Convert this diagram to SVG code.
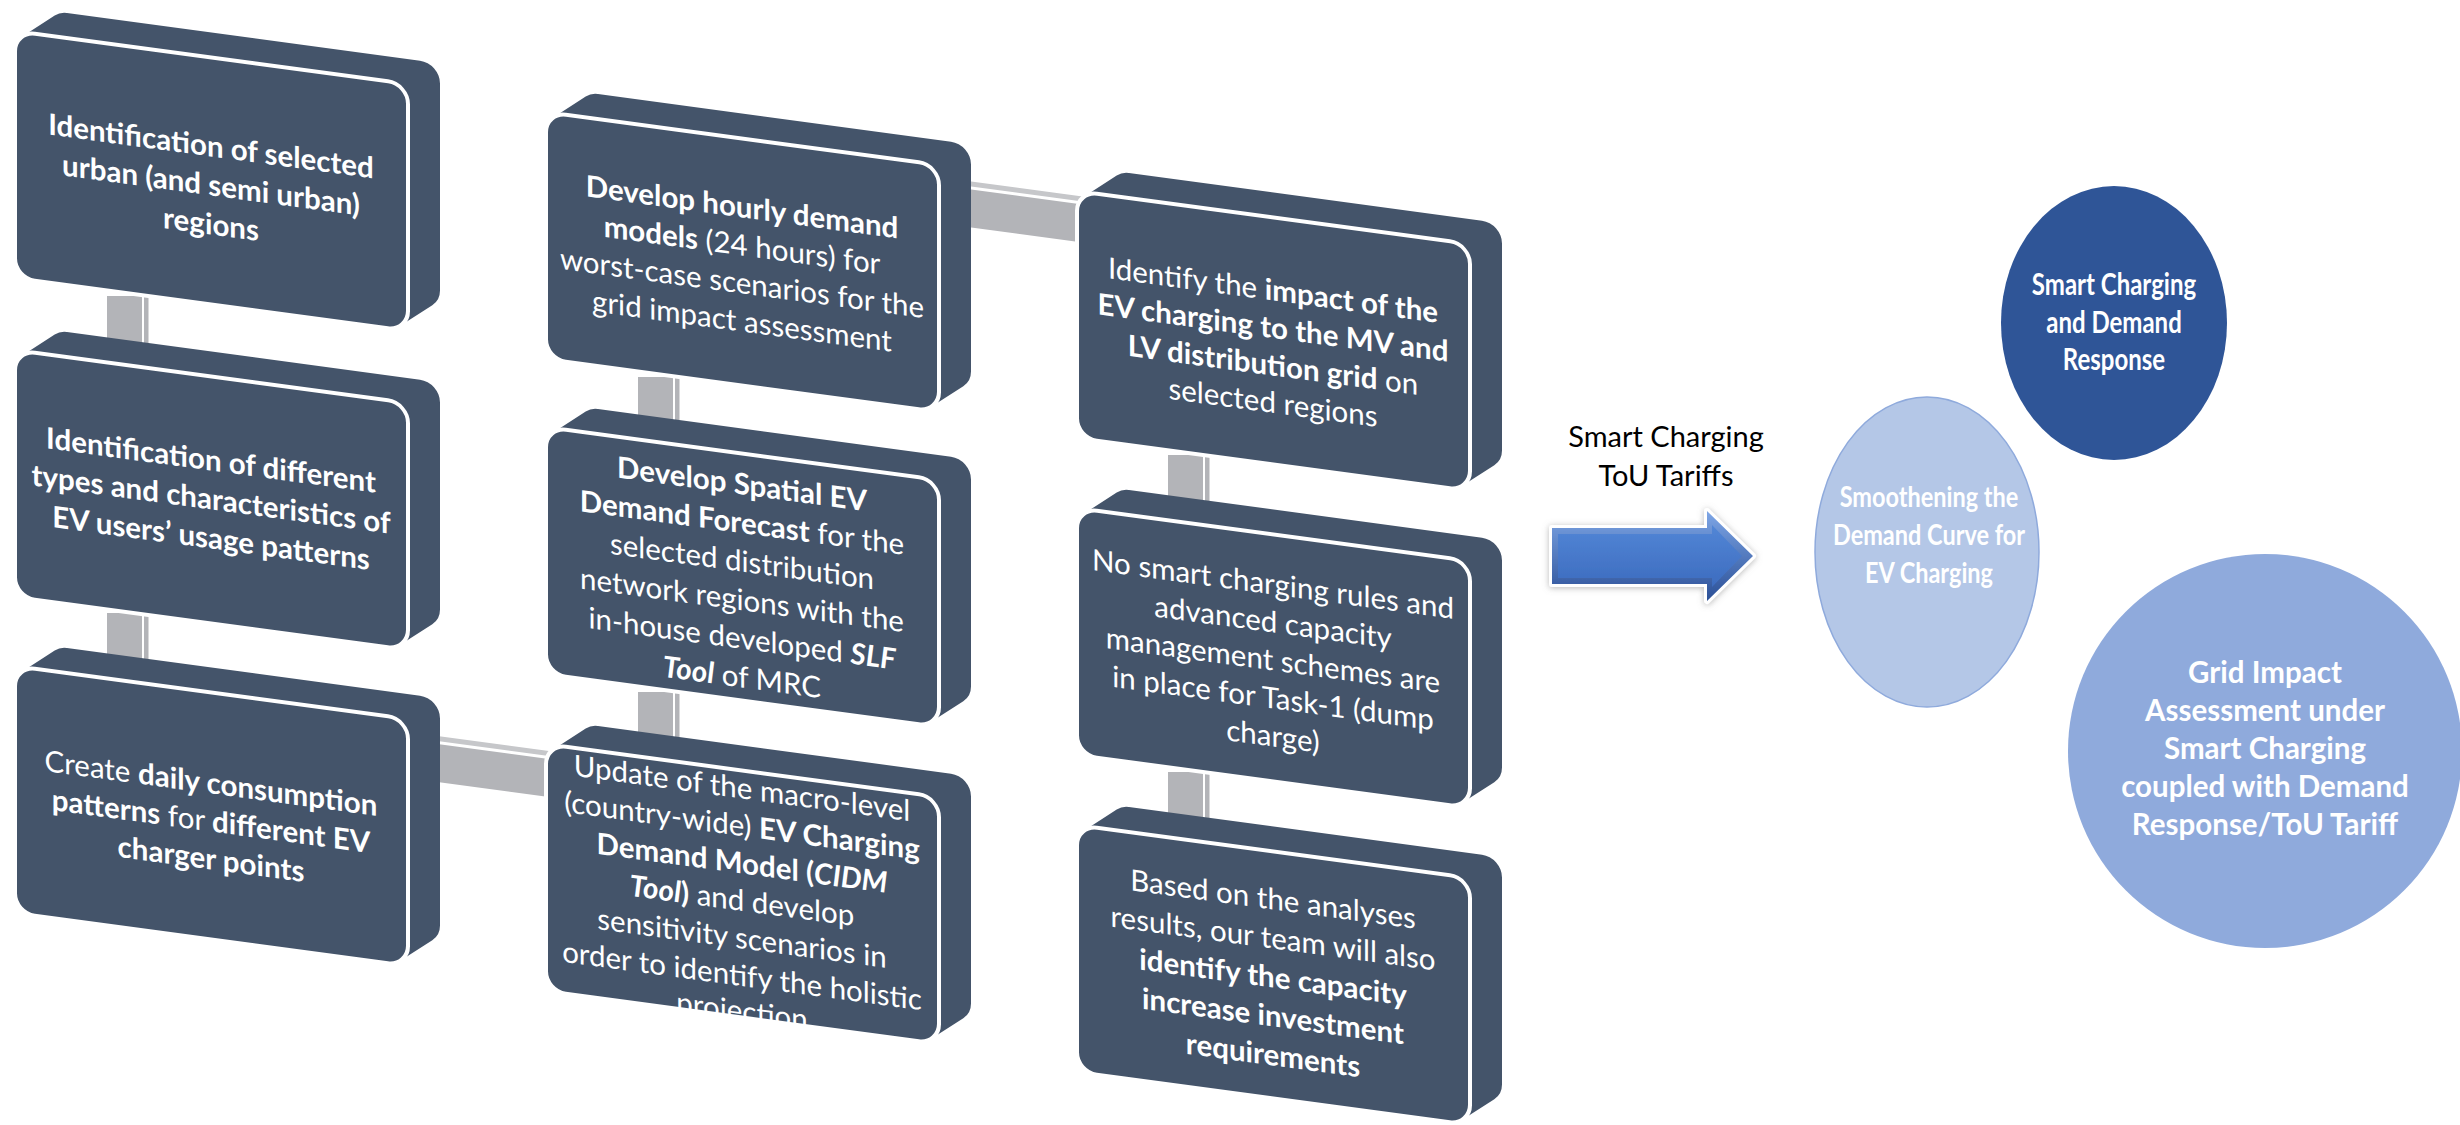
<svg xmlns="http://www.w3.org/2000/svg" width="2460" height="1125" viewBox="0 0 2460 1125">
<defs>
<style>
.slab{fill:#44546a}
.face{fill:#44546a;stroke:#ffffff;stroke-width:4}
.t{font-family:Lato,"Liberation Sans",sans-serif;font-size:29.5px;fill:#ffffff;text-anchor:middle}
.b{font-weight:700}
.bi{font-weight:700;font-style:italic}
.bar{fill:#b3b4b8}
.bar2{fill:#c6c7ca}
.ct{font-family:Lato,"Liberation Sans",sans-serif;font-weight:700;fill:#ffffff;text-anchor:middle}
.lbl{font-family:Lato,"Liberation Sans",sans-serif;font-size:29px;fill:#000000;text-anchor:middle}
</style>
<g id="box">
<path class="slab" d="M7.7,4.2 L39.7,-20.8 A20,20 0 0 1 52,-25 L405,-25 A20,20 0 0 1 425,-5 L425,202 A20,20 0 0 1 417.3,217.8 L385.3,242.8 A20,20 0 0 1 373,247 L20,247 A20,20 0 0 1 0,227 L0,20 A20,20 0 0 1 7.7,4.2 Z"/>
<rect class="face" width="393" height="247" rx="20"/>
</g>
<g id="vbar">
<rect class="bar" width="35" height="50"/>
<rect class="bar" x="37" width="4.5" height="50"/>
</g>
<g id="hbar">
<rect class="bar2" y="-8" width="130" height="5"/>
<rect class="bar" width="130" height="38"/>
</g>
<linearGradient id="arrOuter" x1="0" y1="0" x2="0" y2="1">
<stop offset="0" stop-color="#7ea6e6"/>
<stop offset="1" stop-color="#2a4f96"/>
</linearGradient>
<linearGradient id="arrInner" x1="0" y1="0" x2="0" y2="1">
<stop offset="0" stop-color="#5286d6"/>
<stop offset="1" stop-color="#3d6cbf"/>
</linearGradient>
<filter id="glow" x="-20%" y="-40%" width="140%" height="180%">
<feDropShadow dx="0" dy="1" stdDeviation="3" flood-color="#7f7f7f" flood-opacity="0.55"/>
</filter>
</defs>
<rect width="2460" height="1125" fill="#ffffff"/>

<g id="connectors">
<use href="#vbar" x="107" y="296"/>
<use href="#vbar" x="107" y="613"/>
<use href="#vbar" x="638" y="377"/>
<use href="#vbar" x="638" y="692"/>
<use href="#vbar" x="1168" y="455"/>
<use href="#vbar" x="1168" y="772"/>
<use href="#hbar" transform="translate(430,743) skewY(7.69)"/>
<use href="#hbar" transform="translate(960,188) skewY(7.69)"/>
</g>

<g id="n-a1" transform="translate(15,31) skewY(7.69)">
<use href="#box"/>
<text class="t b" x="196" y="99">Identification of selected</text>
<text class="t b" x="196" y="138">urban (and semi urban)</text>
<text class="t b" x="196" y="177">regions</text>
</g>

<g id="n-a2" transform="translate(15,350) skewY(7.69)">
<use href="#box"/>
<text class="t b" x="196" y="94">Identification of different</text>
<text class="t b" x="196" y="133">types and characteristics of</text>
<text class="t b" x="196" y="172">EV users’ usage patterns</text>
</g>

<g id="n-a3" transform="translate(15,666) skewY(7.69)">
<use href="#box"/>
<text class="t" x="196" y="101">Create <tspan class="b">daily consumption</tspan></text>
<text class="t" x="196" y="139"><tspan class="b">patterns</tspan> for <tspan class="b">different EV</tspan></text>
<text class="t b" x="196" y="177">charger points</text>
</g>

<g id="n-b1" transform="translate(546,112) skewY(7.69)">
<use href="#box"/>
<text class="t b" x="196" y="79">Develop hourly demand</text>
<text class="t" x="196" y="117"><tspan class="b">models</tspan> (24 hours) for</text>
<text class="t" x="196" y="155">worst-case scenarios for the</text>
<text class="t" x="196" y="193">grid impact assessment</text>
</g>

<g id="n-b2" transform="translate(546,427) skewY(7.69)">
<use href="#box"/>
<text class="t b" x="196" y="41">Develop Spatial EV</text>
<text class="t" x="196" y="79.6"><tspan class="b">Demand Forecast</tspan> for the</text>
<text class="t" x="196" y="118.2">selected distribution</text>
<text class="t" x="196" y="156.8">network regions with the</text>
<text class="t" x="196" y="195.4">in-house developed <tspan class="bi">SLF</tspan></text>
<text class="t" x="196" y="234"><tspan class="bi">Tool</tspan> of MRC</text>
</g>

<g id="n-b3" transform="translate(546,744) skewY(7.69)">
<use href="#box"/>
<text class="t" x="196" y="28">Update of the macro-level</text>
<text class="t" x="196" y="65.5">(country-wide) <tspan class="b">EV Charging</tspan></text>
<text class="t b" x="196" y="103">Demand Model (<tspan class="bi">CIDM</tspan></text>
<text class="t" x="196" y="140.5"><tspan class="bi">Tool</tspan><tspan class="b">)</tspan> and develop</text>
<text class="t" x="196" y="178">sensitivity scenarios in</text>
<text class="t" x="196" y="215.5">order to identify the holistic</text>
<text class="t" x="196" y="251">projection</text>
</g>

<g id="n-c1" transform="translate(1077,191) skewY(7.69)">
<use href="#box"/>
<text class="t" x="196" y="83">Identify the <tspan class="b">impact of the</tspan></text>
<text class="t b" x="196" y="120.5">EV charging to the MV and</text>
<text class="t" x="196" y="158"><tspan class="b">LV distribution grid</tspan> on</text>
<text class="t" x="196" y="195.5">selected regions</text>
</g>

<g id="n-c2" transform="translate(1077,508) skewY(7.69)">
<use href="#box"/>
<text class="t" x="196" y="60">No smart charging rules and</text>
<text class="t" x="196" y="98">advanced capacity</text>
<text class="t" x="196" y="136">management schemes are</text>
<text class="t" x="196" y="174">in place for Task-1 (dump</text>
<text class="t" x="196" y="212">charge)</text>
</g>

<g id="n-c3" transform="translate(1077,825) skewY(7.69)">
<use href="#box"/>
<text class="t" x="196" y="58">Based on the analyses</text>
<text class="t" x="196" y="97">results, our team will also</text>
<text class="t b" x="196" y="136">identify the capacity</text>
<text class="t b" x="196" y="175">increase investment</text>
<text class="t b" x="196" y="214">requirements</text>
</g>

<g id="label-smart">
<text class="lbl" x="1666" y="447">Smart Charging</text>
<text class="lbl" x="1666" y="486">ToU Tariffs</text>
</g>

<g id="arrow" filter="url(#glow)">
<polygon points="1552,528 1707,528 1707,511 1753,556 1707,601 1707,584 1552,584" fill="url(#arrOuter)" stroke="#ffffff" stroke-width="6" stroke-linejoin="round" paint-order="stroke"/>
<polygon points="1558,534 1712,534 1712,525 1742,556 1712,587 1712,578 1558,578" fill="url(#arrInner)"/>
</g>

<g id="c-smart">
<ellipse cx="2114" cy="323" rx="113" ry="137" fill="#2f5597"/>
<text class="ct" font-size="24" transform="translate(2114,295) scale(1,1.3)">Smart Charging</text>
<text class="ct" font-size="24" transform="translate(2114,333) scale(1,1.3)">and Demand</text>
<text class="ct" font-size="24" transform="translate(2114,370) scale(1,1.3)">Response</text>
</g>

<g id="c-smooth">
<ellipse cx="1927" cy="552" rx="112" ry="155" fill="#b4c7e7" stroke="#8faadc" stroke-width="1.5"/>
<text class="ct" font-size="23.5" transform="translate(1929,507) scale(1,1.2)">Smoothening the</text>
<text class="ct" font-size="23.5" transform="translate(1929,545) scale(1,1.2)">Demand Curve for</text>
<text class="ct" font-size="23.5" transform="translate(1929,583) scale(1,1.2)">EV Charging</text>
</g>

<g id="c-grid">
<circle cx="2265" cy="751" r="197" fill="#8faadc"/>
<text class="ct" font-size="29.5" x="2265" y="683">Grid Impact</text>
<text class="ct" font-size="29.5" x="2265" y="721">Assessment under</text>
<text class="ct" font-size="29.5" x="2265" y="759">Smart Charging</text>
<text class="ct" font-size="29.5" x="2265" y="797">coupled with Demand</text>
<text class="ct" font-size="29.5" x="2265" y="835">Response/ToU Tariff</text>
</g>
</svg>
